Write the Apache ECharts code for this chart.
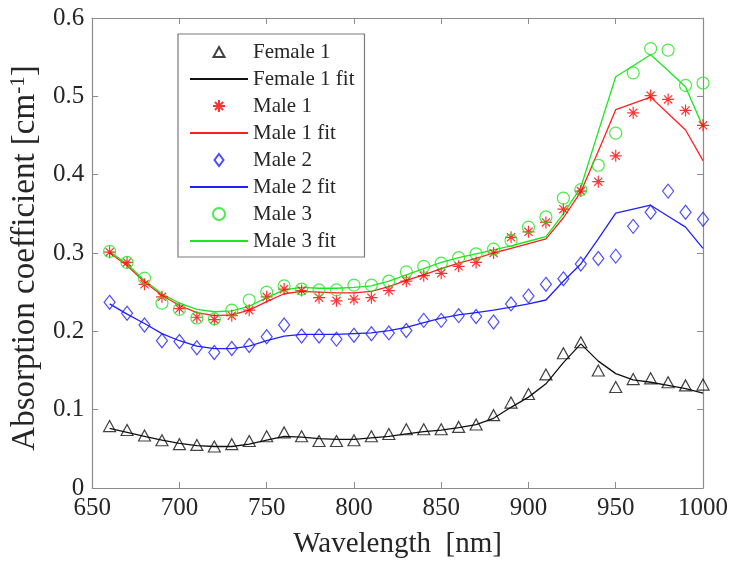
<!DOCTYPE html>
<html>
<head>
<meta charset="utf-8">
<script src="https://cdn.jsdelivr.net/npm/echarts@6/dist/echarts.min.js"></script>
<style>html,body{margin:0;padding:0;background:#fff}#chart{width:731px;height:564px}</style>
</head>
<body>
<div id="chart"></div>
<script>
const wavelengths = [660,670,680,690,700,710,720,730,740,750,760,770,780,790,800,810,820,830,840,850,860,870,880,890,900,910,920,930,940,950,960,970,980,990,1000];
const female1 = [0.079,0.074,0.067,0.061,0.056,0.055,0.053,0.056,0.060,0.066,0.071,0.066,0.060,0.060,0.061,0.066,0.069,0.075,0.075,0.075,0.078,0.081,0.093,0.109,0.120,0.145,0.172,0.186,0.150,0.129,0.139,0.140,0.135,0.131,0.132];
const female1Fit = [0.076,0.071,0.066,0.061,0.057,0.054,0.053,0.053,0.056,0.061,0.066,0.065,0.063,0.062,0.062,0.064,0.066,0.069,0.072,0.074,0.077,0.081,0.089,0.103,0.116,0.133,0.160,0.184,0.162,0.146,0.138,0.135,0.131,0.127,0.121];
const male1 = [0.301,0.288,0.260,0.244,0.229,0.218,0.215,0.220,0.227,0.244,0.254,0.252,0.243,0.239,0.241,0.243,0.252,0.264,0.271,0.274,0.283,0.288,0.300,0.320,0.327,0.339,0.356,0.379,0.391,0.424,0.479,0.501,0.496,0.482,0.463];
const male1Fit = [0.300,0.284,0.263,0.246,0.233,0.224,0.220,0.221,0.227,0.238,0.248,0.251,0.250,0.249,0.249,0.251,0.257,0.265,0.272,0.280,0.287,0.293,0.300,0.306,0.312,0.318,0.345,0.378,0.430,0.483,0.491,0.499,0.478,0.457,0.418];
const male2 = [0.237,0.223,0.208,0.188,0.187,0.179,0.173,0.178,0.182,0.193,0.208,0.194,0.194,0.190,0.195,0.197,0.198,0.201,0.214,0.214,0.220,0.219,0.212,0.235,0.245,0.260,0.267,0.286,0.293,0.296,0.334,0.352,0.379,0.352,0.343];
const male2Fit = [0.235,0.222,0.210,0.197,0.188,0.181,0.178,0.178,0.181,0.188,0.194,0.196,0.196,0.196,0.197,0.198,0.201,0.205,0.211,0.217,0.221,0.224,0.227,0.231,0.235,0.240,0.264,0.286,0.318,0.351,0.356,0.361,0.347,0.333,0.306];
const male3 = [0.302,0.288,0.268,0.236,0.228,0.217,0.216,0.227,0.240,0.250,0.258,0.254,0.253,0.253,0.259,0.259,0.264,0.276,0.283,0.287,0.294,0.299,0.305,0.316,0.333,0.346,0.370,0.381,0.412,0.453,0.530,0.561,0.559,0.514,0.517];
const male3Fit = [0.302,0.286,0.265,0.248,0.236,0.228,0.225,0.226,0.232,0.243,0.253,0.256,0.255,0.255,0.256,0.258,0.264,0.272,0.280,0.288,0.294,0.299,0.304,0.309,0.315,0.321,0.350,0.384,0.455,0.525,0.539,0.553,0.533,0.512,0.461];

const seriesNames = ['Female 1','Female 1 fit','Male 1','Male 1 fit','Male 2','Male 2 fit','Male 3','Male 3 fit'];

const FONT = '"Liberation Serif", "Times New Roman", serif';
const AXIS_GRAY = '#8c8c8c';
const TEXT = '#262626';
const ASTERISK = 'path://M5 0L5 10M0 5L10 5M1.6 1.6L8.4 8.4M8.4 1.6L1.6 8.4';
// legend icons drawn inside a fixed 58x12 box so they keep their shape
const LEGEND_TRIANGLE = 'path://M0 0M58 12M29 1L34.5 11L23.5 11Z';
const LEGEND_DIAMOND = 'path://M0 0M58 12M29 0L33.5 6L29 12L24.5 6Z';

function pairs(vals) { return wavelengths.map((w, i) => [w, vals[i]]); }

function scatter(name, vals, symbol, size, color) {
  return {
    name, type: 'scatter', data: pairs(vals), symbol, symbolSize: size,
    itemStyle: { color: 'rgba(0,0,0,0)', borderColor: color, borderWidth: 1.2 },
    emphasis: { disabled: true }, z: 3
  };
}
function fit(name, vals, color) {
  return {
    name, type: 'line', data: pairs(vals), symbol: 'none', smooth: false,
    lineStyle: { color, width: 1.3 }, itemStyle: { color: 'rgba(0,0,0,0)', borderWidth: 0 },
    emphasis: { disabled: true }, z: 2
  };
}

const legendData = seriesNames.map(n => {
  if (n === 'Female 1') return { name: n, icon: LEGEND_TRIANGLE };
  if (n === 'Male 2') return { name: n, icon: LEGEND_DIAMOND };
  return { name: n };
});

const chart = echarts.init(document.getElementById('chart'), null, { renderer: 'canvas' });
const baseX = {
  type: 'value', min: 650, max: 1000, interval: 50,
  axisLine: { show: true, onZero: false, lineStyle: { color: AXIS_GRAY, width: 1.2 } },
  axisTick: { show: true, inside: true, length: 6, lineStyle: { color: AXIS_GRAY } },
  splitLine: { show: false }
};
const baseY = {
  type: 'value', min: 0, max: 0.6, interval: 0.1,
  axisLine: { show: true, onZero: false, lineStyle: { color: AXIS_GRAY, width: 1.2 } },
  axisTick: { show: true, inside: true, length: 6, lineStyle: { color: AXIS_GRAY } },
  splitLine: { show: false }
};

chart.setOption({
  animation: false,
  backgroundColor: '#ffffff',
  grid: { left: 92, right: 23, top: 18, bottom: 74 },
  legend: {
    data: legendData,
    orient: 'vertical',
    left: 178, top: 34,
    itemWidth: 58, itemHeight: 12, itemGap: 5,
    symbolKeepAspect: true,
    padding: [7, 10, 5, 11],
    borderColor: '#7a7a7a', borderWidth: 1.2,
    backgroundColor: '#ffffff',
    selectedMode: false,
    textStyle: { fontFamily: FONT, fontSize: 21, color: TEXT, lineHeight: 22 }
  },
  xAxis: [
    Object.assign({}, baseX, {
      position: 'bottom',
      name: 'Wavelength  [nm]', nameLocation: 'middle', nameGap: 42,
      nameTextStyle: { fontFamily: FONT, fontSize: 29, color: TEXT },
      axisLabel: { fontFamily: FONT, fontSize: 25, color: TEXT, margin: 8,
        formatter: v => String(v) }
    }),
    Object.assign({}, baseX, { position: 'top', axisLabel: { show: false } })
  ],
  yAxis: [
    Object.assign({}, baseY, {
      position: 'left',
      name: '{n|Absorption coefficient [cm}{s|-1}{n|]}', nameLocation: 'middle', nameGap: 38,
      nameTextStyle: {
        fontFamily: FONT, fontSize: 33, color: TEXT, padding: [0, 10, 0, 0],
        rich: {
          n: { fontFamily: FONT, fontSize: 33, color: TEXT, lineHeight: 34, verticalAlign: 'bottom' },
          s: { fontFamily: FONT, fontSize: 21, color: TEXT, lineHeight: 34, verticalAlign: 'top' }
        }
      },
      axisLabel: { fontFamily: FONT, fontSize: 25, color: TEXT, margin: 8,
        formatter: v => (v === 0 ? '0' : v.toFixed(1)) }
    }),
    Object.assign({}, baseY, { position: 'right', axisLabel: { show: false } })
  ],
  series: [
    scatter('Female 1', female1, 'triangle', [12, 11], '#111111'),
    fit('Female 1 fit', female1Fit, '#111111'),
    scatter('Male 1', male1, ASTERISK, 12, '#ff0000'),
    fit('Male 1 fit', male1Fit, '#ff2020'),
    scatter('Male 2', male2, 'diamond', [11, 14], '#1f1fff'),
    fit('Male 2 fit', male2Fit, '#1f1fff'),
    scatter('Male 3', male3, 'circle', 12, '#1ee61e'),
    fit('Male 3 fit', male3Fit, '#1ee61e')
  ]
});
</script>
</body>
</html>
